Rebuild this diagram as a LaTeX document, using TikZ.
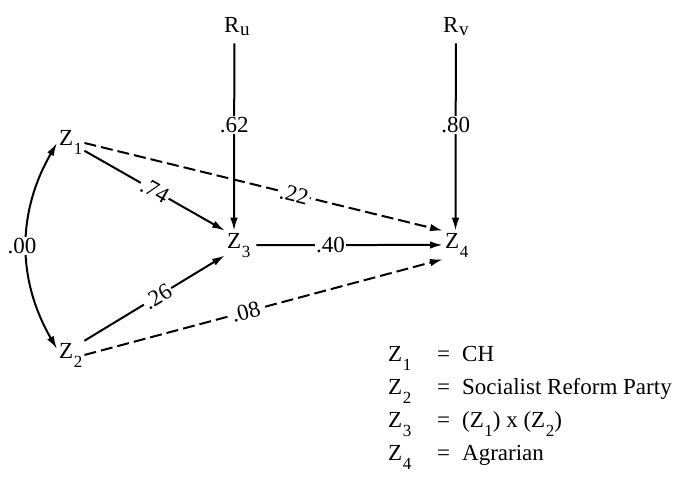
\documentclass[tikz,border=0pt]{standalone}
\usepackage{fontspec}
\setmainfont{Liberation Serif}
\usetikzlibrary{arrows.meta}
\newcommand\zsub[1]{Z\kern0.5pt\raisebox{-9pt}{\fontsize{17}{17}\selectfont #1}}
\newcommand\rsub[1]{R\kern0.5pt\raisebox{-3pt}{\fontsize{19}{19}\selectfont #1}}
\begin{document}
\begin{tikzpicture}[x=1pt,y=-1pt,
  every node/.style={font=\fontsize{23}{26}\selectfont, inner sep=2pt},
  var/.style={anchor=base west},
  lbl/.style={fill=white, inner sep=1.5pt},
  arr/.style={-{Latex[length=13pt,width=7.5pt]}, line width=2pt},
  dsh/.style={arr, dash pattern=on 12pt off 5pt},
  both/.style={{Latex[length=13pt,width=7.5pt]}-{Latex[length=13pt,width=7.5pt]}, line width=2pt}]
\useasboundingbox (0,0) rectangle (679,497);
% variables
\node[var] (z1) at (57,146) {\zsub{1}};
\node[var] (z2) at (57,358) {\zsub{2}};
\node[var] (z3) at (225,248) {\zsub{3}};
\node[var] (z4) at (443,248) {\zsub{4}};
\node[var] (ru) at (222,33) {\rsub{u}};
\node[var] (rv) at (441,33) {\rsub{v}};
% residual paths
\draw[arr, shorten <=5pt] ([xshift=-2.5pt]ru.south) -- node[lbl, pos=.45] {.62} ([xshift=-4.75pt]z3.north);
\draw[arr, shorten <=5pt] ([xshift=0pt]rv.south) -- node[lbl, pos=.45] {.80} ([xshift=-1.25pt]z4.north);
% paths
\draw[arr] (z1) -- node[lbl, sloped] {.74} (z3.north west);
\draw[dsh] (z1.east) -- node[lbl, sloped, pos=.585] {.22} (z4.north west);
\draw[arr] (z2.north east) -- node[lbl, sloped, pos=.52] {.26} ([yshift=4pt]z3.south west);
\draw[dsh] (z2.east) -- node[lbl, sloped, pos=.45] {.08} (z4.south west);
\draw[arr, shorten <=4pt] (z3.east) -- node[lbl, pos=.41] {.40} (z4.west);
\draw[both] (z1.west) to[bend right=30] node[lbl, xshift=-5pt] {.00} ([yshift=6pt]z2.west);
% legend
\node[var] (k1) at (386,361) {\zsub{1}};
\node[var] (e1) at (435,361) {=};
\node[var] (t1) at (460,361) {CH};
\node[var] (k2) at (386,394) {\zsub{2}};
\node[var] (e2) at (435,394) {=};
\node[var] (t2) at (460,394) {Socialist Reform Party};
\node[var] (k3) at (386,427) {\zsub{3}};
\node[var] (e3) at (435,427) {=};
\node[var] (t3) at (460,427) {(\zsub{1}) x (\zsub{2})};
\node[var] (k4) at (386,460) {\zsub{4}};
\node[var] (e4) at (435,460) {=};
\node[var] (t4) at (460,460) {Agrarian};
\end{tikzpicture}
\end{document}
